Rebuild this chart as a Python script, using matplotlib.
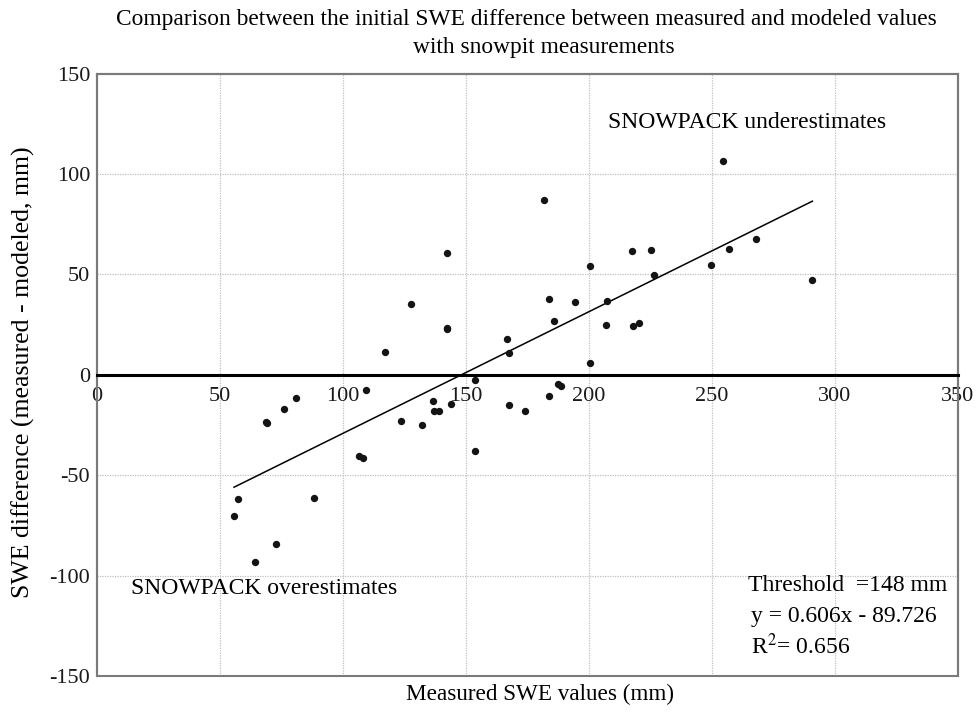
import numpy as np
import matplotlib
matplotlib.use("Agg")
import matplotlib.pyplot as plt
from matplotlib.patches import Rectangle

plt.rcParams['font.family'] = ['Liberation Serif', 'DejaVu Serif']
plt.rcParams['mathtext.fontset'] = 'stix'
plt.rcParams['axes.unicode_minus'] = False

measured = [55.7, 57.2, 64.1, 68.5, 69.2, 72.6, 76.0, 80.9, 88.2, 106.4, 108.1, 109.3,
            117.2, 123.7, 127.6, 132.1, 136.6, 136.9, 138.9, 142.2, 142.2, 142.4, 143.8,
            153.8, 153.8, 166.5, 167.3, 167.3, 173.9, 181.7, 183.7, 183.7, 185.6, 187.5,
            188.7, 194.4, 200.3, 200.5, 206.9, 207.4, 217.6, 218.0, 220.2, 225.2, 226.4,
            249.7, 254.6, 257.0, 267.8, 290.8]
difference = [-70.3, -61.8, -93.0, -23.5, -24.2, -84.5, -16.8, -11.7, -61.3, -40.4, -41.5, -7.6,
              11.2, -22.9, 35.4, -25.2, -13.0, -18.1, -17.8, 60.8, 23.4, 22.6, -14.5,
              -2.6, -38.0, 17.6, 10.8, -15.1, -18.1, 86.9, 37.6, -10.6, 26.8, -4.8,
              -5.5, 36.2, 6.0, 54.3, 24.9, 36.7, 61.5, 24.3, 25.8, 62.3, 49.5,
              54.7, 106.4, 62.5, 67.8, 47.1]
slope = 0.606
intercept = -89.726
r2 = 0.656
threshold = 148

x_ticks = [0, 50, 100, 150, 200, 250, 300, 350]
y_ticks = [-150, -100, -50, 0, 50, 100, 150]

fig = plt.figure(figsize=(9.77, 7.12), dpi=100)
ax = fig.add_axes([0.0993, 0.0506, 0.8813, 0.8459])
ax.set_xlim(0, 350)
ax.set_ylim(-150, 150)

# grid
for xv in x_ticks[1:-1]:
    ax.axvline(xv, color='#c0c0c0', lw=0.9, ls=(0, (1, 1)), zorder=0)
for yv in [-100, -50, 50, 100]:
    ax.axhline(yv, color='#c0c0c0', lw=0.9, ls=(0, (1, 1)), zorder=0)

ax.scatter(measured, difference, s=28, color='#141414', zorder=3, linewidths=0)
xr = np.array([min(measured), max(measured)])
ax.plot(xr, slope * xr + intercept, color='black', lw=1.1, zorder=2)

for s in ['top', 'right', 'left']:
    ax.spines[s].set_color('#7a7a7a')
    ax.spines[s].set_linewidth(1.5)
ax.spines['bottom'].set_position(('data', 0))
ax.spines['bottom'].set_color('black')
ax.spines['bottom'].set_linewidth(2.2)
ax.add_patch(Rectangle((0, 0), 1, 1, transform=ax.transAxes, fill=False,
                       edgecolor='#7a7a7a', lw=1.5, clip_on=False, zorder=1))

ax.set_xticks(x_ticks)
ax.set_yticks(y_ticks)
ax.tick_params(axis='both', length=0, labelsize=16, colors='#1a1a1a')
ax.tick_params(axis='x', pad=9)
ax.tick_params(axis='y', pad=5)

fig.text(0.024, 0.4768, 'SWE difference (measured - modeled, mm)', fontsize=18.6,
         rotation=90, ha='center', va='center')
fig.text(0.5527, 0.0253, 'Measured SWE values (mm)', fontsize=16.7, ha='center', va='center')
fig.text(0.5385, 0.972, 'Comparison between the initial SWE difference between measured and modeled values',
         fontsize=16.8, ha='center', va='center')
fig.text(0.5568, 0.9326, 'with snowpit measurements', fontsize=16.8, ha='center', va='center')

ax.text(207.7, 125.5, 'SNOWPACK underestimates', fontsize=17, ha='left', va='center')
ax.text(13.8, -106.5, 'SNOWPACK overestimates', fontsize=17, ha='left', va='center')
ax.text(264.6, -105, 'Threshold  =%d mm' % threshold, fontsize=17, ha='left', va='center')
ax.text(265.9, -120.5, 'y = %.3fx - %.3f' % (slope, -intercept), fontsize=17, ha='left', va='center')
ax.text(265.9, -135.5, 'R$^{2}$= %.3f' % r2, fontsize=17, ha='left', va='center')

fig.savefig('out.png', dpi=100)
